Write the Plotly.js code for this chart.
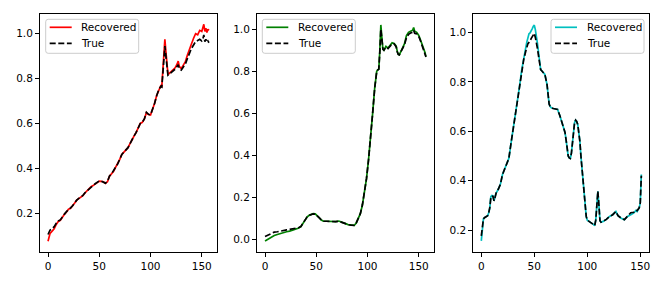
<!DOCTYPE html>
<html>
<head>
<meta charset="utf-8">
<script src="https://cdn.plot.ly/plotly-3.0.1.min.js"></script>
<style>html,body{margin:0;padding:0;background:#fff;}#chart{width:664px;height:285px;}</style>
</head>
<body>
<div id="chart"></div>
<script>
// ---- Panel 1 ----
const x1 = [0,2,4,6,8,10,12,14,16,18,20,22,24,26,28,30,32,34,36,38,40,42,44,46,48,50,52,54,56,58,60,62,64,66,68,70,72,74,76,78,80,82,84,86,88,90,92,94,96,98,100,102,104,106,108,110,111,112,113,114,115,116,117,118,120,122,124,126,127,128,130,132,134,136,138,140,142,144,146,148,150,151,152,153,154,155,156,157];
const rec1 = [0.075,0.11,0.12,0.13,0.15,0.163,0.168,0.185,0.195,0.205,0.218,0.222,0.232,0.245,0.258,0.265,0.27,0.278,0.29,0.3,0.31,0.318,0.323,0.33,0.337,0.343,0.342,0.34,0.333,0.34,0.365,0.375,0.387,0.405,0.42,0.44,0.462,0.472,0.48,0.492,0.51,0.53,0.545,0.56,0.578,0.6,0.605,0.62,0.648,0.64,0.638,0.66,0.69,0.725,0.75,0.768,0.765,0.83,0.9,0.975,0.92,0.85,0.82,0.822,0.83,0.84,0.848,0.865,0.878,0.855,0.845,0.86,0.875,0.905,0.935,0.955,0.98,1.0,0.995,1.015,1.01,1.03,1.042,1.01,1.025,1.005,1.02,1.015];
const true1 = [0.105,0.125,0.13,0.14,0.155,0.165,0.17,0.186,0.196,0.207,0.218,0.224,0.233,0.246,0.258,0.266,0.272,0.279,0.291,0.3,0.31,0.318,0.324,0.331,0.337,0.344,0.343,0.34,0.334,0.342,0.366,0.376,0.388,0.405,0.42,0.44,0.462,0.472,0.48,0.492,0.51,0.53,0.545,0.56,0.578,0.6,0.606,0.62,0.65,0.641,0.638,0.66,0.69,0.724,0.75,0.765,0.762,0.82,0.88,0.945,0.9,0.84,0.815,0.818,0.826,0.835,0.842,0.855,0.862,0.845,0.838,0.852,0.865,0.89,0.915,0.935,0.95,0.965,0.97,0.975,0.968,0.975,0.995,0.965,0.975,0.962,0.968,0.96];

// ---- Panel 2 ----
const x2 = [0,3,6,9,12,15,18,21,24,27,30,33,35,37,39,41,43,45,47,49,51,53,55,57,60,63,66,69,72,75,78,81,84,87,89,91,93,95,97,99,101,103,105,107,108,109,110,111,112,113,114,115,116,118,120,122,124,126,128,129,130,131,132,134,136,138,140,142,144,145,146,148,150,152,154,156,157];
const rec2 = [-0.006,0.003,0.01,0.02,0.025,0.03,0.035,0.038,0.041,0.045,0.049,0.056,0.062,0.078,0.095,0.108,0.116,0.122,0.124,0.123,0.115,0.104,0.094,0.088,0.088,0.087,0.085,0.086,0.089,0.082,0.078,0.072,0.069,0.068,0.08,0.1,0.124,0.165,0.22,0.29,0.38,0.48,0.6,0.72,0.76,0.8,0.808,0.81,0.9,1.02,0.96,0.905,0.9,0.918,0.91,0.925,0.935,0.932,0.92,0.895,0.88,0.878,0.89,0.905,0.93,0.97,0.985,0.99,0.995,1.008,0.99,0.985,0.97,0.945,0.92,0.89,0.87];
const true2 = [0.016,0.022,0.028,0.036,0.038,0.042,0.045,0.047,0.049,0.051,0.053,0.058,0.063,0.078,0.095,0.108,0.116,0.121,0.123,0.122,0.115,0.104,0.094,0.088,0.088,0.087,0.085,0.086,0.088,0.082,0.078,0.072,0.069,0.068,0.08,0.1,0.124,0.165,0.22,0.29,0.38,0.48,0.6,0.72,0.76,0.8,0.806,0.81,0.89,1.0,0.955,0.905,0.9,0.915,0.908,0.922,0.93,0.93,0.915,0.893,0.88,0.878,0.888,0.9,0.925,0.96,0.975,0.982,0.985,0.995,0.98,0.978,0.965,0.94,0.915,0.888,0.868];

// ---- Panel 3 ----
const x3 = [0,1,2,3,5,6,7,8,9,10,11,12,13,14,16,18,20,22,24,26,28,30,32,34,36,38,40,42,43,44,45,46,47,48,49,50,51,52,53,54,55,56,57,58,60,62,63,64,65,66,68,70,72,74,76,78,79,80,81,82,83,84,85,86,87,88,89,90,91,92,93,94,95,96,97,98,99,100,102,104,106,107,108,109,110,111,112,113,115,118,121,124,127,129,132,135,138,141,144,146,147,149,150,151];
const rec3 = [0.156,0.22,0.245,0.25,0.255,0.258,0.27,0.29,0.335,0.34,0.338,0.318,0.335,0.35,0.365,0.385,0.425,0.445,0.465,0.49,0.55,0.605,0.66,0.715,0.78,0.845,0.9,0.94,0.962,0.98,0.995,0.998,1.005,1.015,1.025,1.03,1.012,0.99,0.955,0.92,0.88,0.85,0.845,0.84,0.83,0.79,0.74,0.71,0.7,0.695,0.692,0.69,0.688,0.665,0.635,0.61,0.595,0.565,0.53,0.5,0.492,0.49,0.51,0.56,0.6,0.635,0.645,0.64,0.628,0.6,0.56,0.5,0.45,0.39,0.33,0.285,0.255,0.24,0.232,0.228,0.222,0.218,0.24,0.3,0.357,0.3,0.238,0.232,0.235,0.243,0.255,0.262,0.275,0.258,0.248,0.242,0.255,0.262,0.27,0.28,0.275,0.29,0.31,0.425];
const true3 = [0.176,0.225,0.245,0.25,0.255,0.258,0.27,0.29,0.33,0.338,0.336,0.318,0.333,0.35,0.365,0.385,0.425,0.445,0.465,0.49,0.55,0.605,0.66,0.715,0.78,0.84,0.89,0.925,0.945,0.955,0.96,0.965,0.975,0.982,0.99,0.997,0.98,0.96,0.935,0.905,0.875,0.85,0.845,0.84,0.83,0.79,0.74,0.71,0.7,0.695,0.692,0.69,0.688,0.665,0.635,0.61,0.595,0.565,0.53,0.5,0.492,0.49,0.51,0.56,0.6,0.635,0.645,0.64,0.628,0.6,0.56,0.5,0.45,0.39,0.33,0.285,0.255,0.24,0.232,0.228,0.222,0.218,0.24,0.3,0.357,0.3,0.238,0.232,0.235,0.243,0.255,0.262,0.275,0.258,0.248,0.242,0.255,0.27,0.272,0.28,0.278,0.29,0.31,0.42];

const names = ["Recovered", "True"];
const colors = ["#ff0000", "#008000", "#00bfbf"];

const W = 664, H = 285;
const DASH = "6px,2.6px";
const LW = 1.7;

const panels = [
  {x: x1, r: rec1, t: true1},
  {x: x2, r: rec2, t: true2},
  {x: x3, r: rec3, t: true3}
];

const traces = [];
panels.forEach((p, i) => {
  const sfx = i === 0 ? "" : String(i + 1);
  traces.push({x: p.x, y: p.r, type: "scatter", mode: "lines", name: names[0],
    xaxis: "x" + sfx, yaxis: "y" + sfx, showlegend: false,
    line: {color: colors[i], width: LW}});
  traces.push({x: p.x, y: p.t, type: "scatter", mode: "lines", name: names[1],
    xaxis: "x" + sfx, yaxis: "y" + sfx, showlegend: false,
    line: {color: "#000000", width: LW, dash: DASH}});
});

const font = {family: "DejaVu Sans", size: 10.5, color: "#000"};
function xa(dom, rng) {
  return {domain: dom, range: rng, tickmode: "linear", tick0: 0, dtick: 50,
    showline: true, mirror: true, linecolor: "#000", linewidth: 1,
    ticks: "outside", ticklen: 4, tickwidth: 1, tickcolor: "#000",
    showgrid: false, zeroline: false, tickfont: font, fixedrange: true};
}
function ya(anchor, rng) {
  return {domain: [0.1158, 0.9509], range: rng, anchor: anchor,
    tickmode: "linear", tick0: 0, dtick: 0.2, tickformat: ".1f",
    showline: true, mirror: true, linecolor: "#000", linewidth: 1,
    ticks: "outside", ticklen: 4, tickwidth: 1, tickcolor: "#000",
    showgrid: false, zeroline: false, tickfont: font, fixedrange: true};
}

// hand-built legend boxes (matplotlib style) placed in paper pixels
const px = v => v / W;
const py = v => 1 - v / H;
const shapes = [], annotations = [];
function legendBox(left, color) {
  const top = 19.3, bot = 53.3, right = left + 93, r = 2.5;
  const path = "M" + px(left + r) + "," + py(top) +
    " L" + px(right - r) + "," + py(top) +
    " Q" + px(right) + "," + py(top) + " " + px(right) + "," + py(top + r) +
    " L" + px(right) + "," + py(bot - r) +
    " Q" + px(right) + "," + py(bot) + " " + px(right - r) + "," + py(bot) +
    " L" + px(left + r) + "," + py(bot) +
    " Q" + px(left) + "," + py(bot) + " " + px(left) + "," + py(bot - r) +
    " L" + px(left) + "," + py(top + r) +
    " Q" + px(left) + "," + py(top) + " " + px(left + r) + "," + py(top) + " Z";
  shapes.push({type: "path", xref: "paper", yref: "paper", path: path,
    fillcolor: "rgba(255,255,255,0.8)", line: {color: "#cccccc", width: 1}});
  const rows = [27.3, 43.3];
  const lineStyles = [{color: color, width: LW}, {color: "#000", width: LW, dash: DASH}];
  rows.forEach((yy, k) => {
    shapes.push({type: "line", xref: "paper", yref: "paper",
      x0: px(left + 4), x1: px(left + 26), y0: py(yy), y1: py(yy), line: lineStyles[k]});
    annotations.push({xref: "paper", yref: "paper", x: px(left + 33.5), y: py(yy),
      xanchor: "left", yanchor: "middle", showarrow: false, text: names[k],
      font: {family: "DejaVu Sans", size: 10.5, color: "#000"}});
  });
}
legendBox(45.7, colors[0]);
legendBox(262.3, colors[1]);
legendBox(551, colors[2]);

const layout = {
  width: W, height: H,
  margin: {l: 0, r: 0, t: 0, b: 0},
  paper_bgcolor: "#fff", plot_bgcolor: "#fff",
  showlegend: false,
  xaxis: Object.assign(xa([0.0602, 0.3268], [-7.85, 164.85]), {anchor: "y"}),
  yaxis: ya("x", [0.027, 1.088]),
  xaxis2: Object.assign(xa([0.3870, 0.6536], [-7.85, 164.85]), {anchor: "y2"}),
  yaxis2: ya("x2", [-0.058, 1.072]),
  xaxis3: Object.assign(xa([0.7128, 0.9779], [-7.55, 158.55]), {anchor: "y3"}),
  yaxis3: ya("x3", [0.111, 1.075]),
  shapes: shapes,
  annotations: annotations
};

Plotly.newPlot("chart", traces, layout, {displayModeBar: false, staticPlot: true});
</script>
</body>
</html>
